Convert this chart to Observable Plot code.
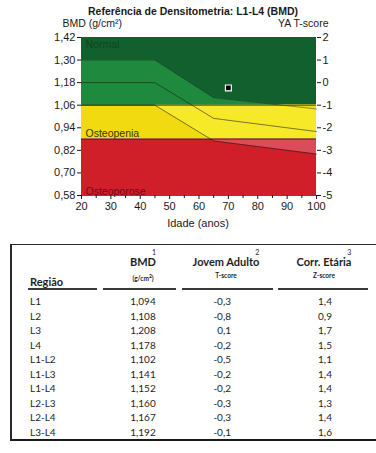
<!DOCTYPE html>
<html><head><meta charset="utf-8">
<script src="https://cdn.jsdelivr.net/npm/d3@7"></script>
<script src="https://cdn.jsdelivr.net/npm/@observablehq/plot@0.6"></script>
<style>
html,body{margin:0;padding:0;background:#fff;}
body{width:376px;height:453px;overflow:hidden;position:relative;font-family:"Liberation Sans",Arial,sans-serif;}
#chart{position:absolute;left:0;top:0;}
#tbl{position:absolute;left:10px;top:244px;width:380px;height:194px;border-top:1.5px solid #2a2a2a;border-left:2px solid #2a2a2a;border-bottom:2px solid #1a1a1a;font-family:Lato,"Open Sans",sans-serif;color:#1e1e1e;}
#tbl div{position:absolute;white-space:nowrap;}
.hd{font-weight:bold;font-size:11px;line-height:13px;text-align:center;width:110px;}
.hd .sup{position:absolute;right:0px;top:-9px;font-weight:normal;font-size:7px;}
.sub{font-weight:bold;font-size:6.5px;line-height:8px;text-align:center;width:110px;}
.ul{height:2px;background:#3a3a3a;}
.cell{font-size:10px;line-height:12px;}
</style>
</head><body>
<div id="chart"></div>
<div id="tbl"></div>
<script>
// ---- chart data ----
const chartTitle = "Referência de Densitometria: L1-L4 (BMD)";
const zoneNames = ["Normal", "Osteopenia", "Osteoporose"];
const zoneLo = [1.06, 0.88, 0.58];
const zoneHi = [1.42, 1.06, 0.88];
const refAges = [20, 45, 65, 100];
const refPlus1 = [1.30, 1.30, 1.10, 1.04];
const refMean = [1.18, 1.18, 0.99, 0.92];
const refMinus1 = [1.06, 1.06, 0.87, 0.80];
const yTicks = [1.42, 1.30, 1.18, 1.06, 0.94, 0.82, 0.70, 0.58];
const tTickLabels = ["2", "1", "0", "-1", "-2", "-3", "-4", "-5"];
const xTicks = [20, 30, 40, 50, 60, 70, 80, 90, 100];
const xMinorTicks = [25, 35, 45, 55, 65, 75, 85, 95];
const patientAge = [70];
const patientBMD = [1.152];

// ---- table data ----
const regions = ["L1","L2","L3","L4","L1-L2","L1-L3","L1-L4","L2-L3","L2-L4","L3-L4"];
const bmdValues = ["1,094","1,108","1,208","1,178","1,102","1,141","1,152","1,160","1,167","1,192"];
const tScores = ["-0,3","-0,8","0,1","-0,2","-0,5","-0,2","-0,2","-0,3","-0,3","-0,1"];
const zScores = ["1,4","0,9","1,7","1,5","1,1","1,4","1,4","1,3","1,4","1,6"];
const colHeads = ["BMD","Jovem Adulto","Corr. Etária"];
const colSubs = ["(g/cm²)","T-score","Z-score"];
const colNums = ["1","2","3"];

// ---- build ----
const zones = zoneNames.map((name, i) => ({name, lo: zoneLo[i], hi: zoneHi[i]}));
const curve = vals => refAges.map((age, i) => ({age, v: vals[i]}));
// clip a reference curve to a zone band (adds the exact crossing points)
function clampCurve(vals, lo, hi) {
  const out = [];
  for (let i = 0; i < refAges.length; i++) {
    const a = refAges[i], v = vals[i];
    if (i > 0) {
      const a0 = refAges[i-1], v0 = vals[i-1], cr = [];
      for (const b of [lo, hi]) {
        if ((v0 - b) * (v - b) < 0) { const t = (b - v0) / (v - v0); cr.push({age: a0 + t * (a - a0), v: b}); }
      }
      cr.sort((p, q) => p.age - q.age).forEach(p => out.push(p));
    }
    out.push({age: a, v: Math.max(lo, Math.min(hi, v))});
  }
  return out;
}
const patient = patientAge.map((age, i) => ({age, bmd: patientBMD[i]}));
const comma = d => d.toFixed(2).replace(".", ",");

const C = {dkGreen: "#13602f", ltGreen: "#1f8a3d", yellow: "#f1da10", ltYellow: "#f6e928", red: "#d11f2a", pink: "#dc4b5a"};
const narrow = "'Liberation Sans Narrow', 'Arial Narrow', sans-serif";

const plot = Plot.plot({
  width: 376, height: 234,
  marginTop: 37, marginBottom: 39, marginLeft: 81, marginRight: 60,
  x: {domain: [20, 100]},
  y: {domain: [0.58, 1.42]},
  color: {domain: zoneNames, range: [C.dkGreen, C.yellow, C.red]},
  style: {fontFamily: "'Liberation Sans', Arial, sans-serif", fontSize: "11px", color: "#1a1a1a", background: "transparent", overflow: "visible"},
  marks: [
    Plot.rect(zones, {y1: "lo", y2: "hi", fill: "name"}),
    // reference band inside each zone
    Plot.area(clampCurve(refPlus1, zoneLo[0], zoneHi[0]), {x1: "age", y1: () => zoneLo[0], y2: "v", fill: C.ltGreen}),
    Plot.area(clampCurve(refMinus1, zoneLo[1], zoneHi[1]), {x1: "age", y1: "v", y2: () => zoneHi[1], fill: C.ltYellow}),
    Plot.area(clampCurve(refPlus1, zoneLo[1], zoneHi[1]), {x1: "age", y1: "v", y2: () => zoneHi[1], fill: C.yellow}),
    Plot.area(clampCurve(refMinus1, zoneLo[2], zoneHi[2]), {x1: "age", y1: "v", y2: () => zoneHi[2], fill: C.pink}),
    Plot.line(curve(refPlus1), {x: "age", y: "v", stroke: "#1a1a1a", strokeWidth: 0.8, strokeOpacity: 0.55}),
    Plot.line(curve(refMean), {x: "age", y: "v", stroke: "#1a1a1a", strokeWidth: 0.8, strokeOpacity: 0.7}),
    Plot.line(curve(refMinus1), {x: "age", y: "v", stroke: "#1a1a1a", strokeWidth: 0.8, strokeOpacity: 0.7}),
    Plot.ruleY(zoneLo, {stroke: "#2a1a1a", strokeWidth: 1, strokeOpacity: 0.75}),
    Plot.text(zones.slice(0, 1), {x: () => 20, y: "hi", text: "name", textAnchor: "start", dx: 4, dy: 7, fill: "#0b4722", fontSize: 10.5}),
    Plot.text(zones.slice(1, 2), {x: () => 20, y: "lo", text: "name", textAnchor: "start", dx: 4, dy: -5, fill: "#3a3410", fontSize: 10.5}),
    Plot.text(zones.slice(2, 3), {x: () => 20, y: "lo", text: "name", textAnchor: "start", dx: 4, dy: -4, fill: "#6e0c18", fontSize: 10.5}),
    Plot.dot(patient, {x: "age", y: "bmd", symbol: "square", r: 3.3, fill: "#000", stroke: "#fff", strokeWidth: 1.2}),
    Plot.axisY(yTicks, {anchor: "left", tickFormat: comma, tickSize: 4, tickPadding: 2, label: null, fontSize: 11}),
    Plot.axisY(yTicks, {anchor: "right", tickFormat: d => tTickLabels[yTicks.indexOf(d)], tickSize: 4, tickPadding: 2, label: null, fontSize: 11}),
    Plot.axisX(xTicks, {tickSize: 4, tickPadding: 3, label: null, fontSize: 11}),
    Plot.axisX(xMinorTicks, {tickSize: 3, tickFormat: () => "", label: null}),
    Plot.text([chartTitle], {text: d => d, frameAnchor: "top", dx: -6, dy: -30, fontWeight: "bold", fontSize: 10.5, fontFamily: narrow}),
    Plot.text(["BMD (g/cm²)"], {text: d => d, frameAnchor: "top-left", textAnchor: "start", dx: -19, dy: -17.5, fontSize: 10.5, fontFamily: narrow}),
    Plot.text(["YA T-score"], {text: d => d, frameAnchor: "top-right", textAnchor: "end", dx: 12, dy: -17.5, fontSize: 10.5, fontFamily: narrow}),
    Plot.text(["Idade (anos)"], {text: d => d, frameAnchor: "bottom", dx: -1, dy: 31, fontSize: 11})
  ]
});
document.getElementById("chart").appendChild(plot);

// ---- table ----
const tbl = document.getElementById("tbl");
const add = (cls, html, style) => { const d = document.createElement("div"); d.className = cls; d.innerHTML = html; Object.assign(d.style, style); tbl.appendChild(d); return d; };
const colCenter = [131, 214, 312];   // relative to table box
colHeads.forEach((h, k) => {
  const w = 110;
  const hd = add("hd", "", {left: (colCenter[k] - w/2) + "px", top: "10px"});
  hd.innerHTML = `<span style="position:relative;display:inline-block">${h}<span class="sup">${colNums[k]}</span></span>`;
  add("sub", colSubs[k].replace("²", "<sup style='font-size:5px'>2</sup>"), {left: (colCenter[k] - w/2) + "px", top: "27px"});
});
add("hd", "Região", {left: "18px", top: "30px", width: "auto", textAlign: "left"});
[[16, 85], [91, 164], [170, 261], [266, 356]].forEach(([a, b]) => add("ul", "", {left: a + "px", width: (b - a) + "px", top: "43px"}));
regions.forEach((r, i) => {
  const y = 50 + i * 14.5;
  add("cell", r, {left: "18px", top: y + "px"});
  add("cell", bmdValues[i], {left: (colCenter[0] - 40) + "px", width: "80px", textAlign: "center", top: y + "px"});
  add("cell", tScores[i], {left: "159px", width: "60px", textAlign: "right", top: y + "px"});
  add("cell", zScores[i], {left: (colCenter[2] - 29) + "px", width: "60px", textAlign: "center", top: y + "px"});
});
</script>
</body></html>
